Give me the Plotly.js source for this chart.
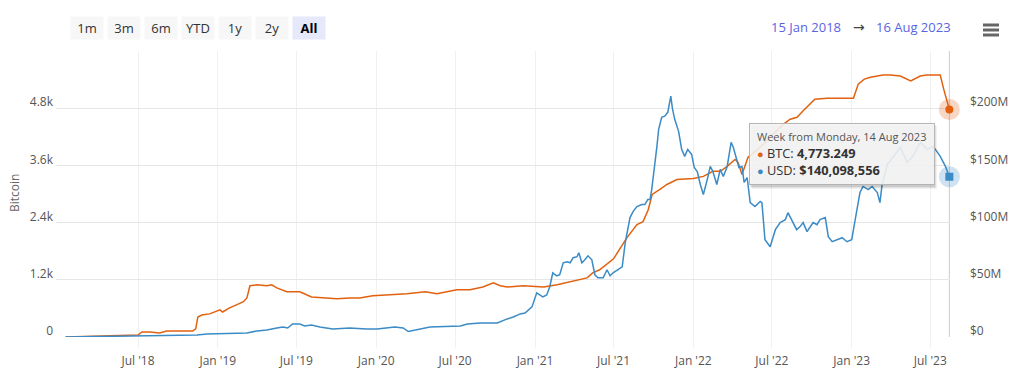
<!DOCTYPE html>
<html><head><meta charset="utf-8">
<script src="https://cdn.plot.ly/plotly-3.0.1.min.js"></script>
<style>html,body{margin:0;padding:0;background:#fff;} #chart{width:1015px;height:383px;}</style>
</head><body><div id="chart"></div>
<script>
// ---- data ----
const btcDates = ['2018-01-15','2018-04-11','2018-06-12','2018-07-01','2018-07-10','2018-07-28','2018-08-20','2018-09-05','2018-11-04','2018-11-11','2018-11-16','2018-11-25','2018-12-13','2019-01-06','2019-01-12','2019-01-28','2019-02-13','2019-03-01','2019-03-09','2019-03-16','2019-04-01','2019-04-24','2019-05-05','2019-05-17','2019-06-09','2019-07-09','2019-08-05','2019-09-09','2019-10-02','2019-11-01','2019-11-24','2019-12-24','2020-02-01','2020-03-12','2020-04-23','2020-05-20','2020-07-05','2020-08-04','2020-09-03','2020-09-27','2020-10-13','2020-10-29','2020-12-05','2021-01-21','2021-02-21','2021-03-30','2021-05-01','2021-05-14','2021-05-30','2021-07-01','2021-08-01','2021-08-24','2021-09-07','2021-09-19','2021-09-28','2021-10-16','2021-11-01','2021-11-24','2022-01-01','2022-01-24','2022-02-15','2022-03-04','2022-03-20','2022-04-07','2022-04-14','2022-04-23','2022-04-30','2022-05-07','2022-06-04','2022-07-01','2022-07-24','2022-08-12','2022-08-28','2022-09-10','2022-09-24','2022-10-08','2022-11-05','2023-01-05','2023-01-16','2023-01-30','2023-02-13','2023-03-14','2023-03-31','2023-04-23','2023-05-17','2023-06-08','2023-06-24','2023-07-24','2023-08-01','2023-08-07','2023-08-14'];
const btcValues = [0,20,30,40,105,105,85,125,125,170,420,460,485,570,525,610,675,740,820,1075,1095,1075,1095,1030,950,950,840,820,800,820,820,865,885,905,950,905,990,990,1050,1135,1075,1050,1075,1050,1095,1180,1240,1345,1410,1640,2085,2360,2420,2670,2990,3095,3200,3305,3325,3370,3475,3475,3580,3725,3665,3410,3580,3770,3980,4230,4440,4570,4610,4735,4860,4990,5010,5010,5305,5410,5450,5495,5495,5475,5370,5475,5495,5495,5200,4990,4773.249];

const usdDates = ['2018-01-15','2018-06-30','2018-11-14','2018-12-07','2019-03-09','2019-04-01','2019-04-24','2019-05-17','2019-05-31','2019-06-11','2019-06-22','2019-07-09','2019-07-20','2019-08-05','2019-08-24','2019-09-23','2019-11-01','2019-12-10','2020-01-03','2020-02-13','2020-03-03','2020-03-15','2020-04-11','2020-05-04','2020-07-13','2020-07-29','2020-08-28','2020-10-06','2020-10-29','2020-11-12','2020-11-28','2020-12-09','2020-12-25','2021-01-05','2021-01-12','2021-01-19','2021-01-28','2021-02-04','2021-02-11','2021-02-20','2021-02-27','2021-03-07','2021-03-16','2021-03-23','2021-03-30','2021-04-08','2021-04-12','2021-04-19','2021-04-26','2021-05-03','2021-05-12','2021-05-19','2021-05-26','2021-06-07','2021-06-16','2021-06-23','2021-06-30','2021-07-12','2021-07-21','2021-07-28','2021-08-08','2021-08-15','2021-08-24','2021-09-04','2021-09-11','2021-09-18','2021-09-23','2021-09-27','2021-10-04','2021-10-09','2021-10-13','2021-10-20','2021-10-27','2021-11-03','2021-11-10','2021-11-14','2021-11-19','2021-11-24','2021-11-28','2021-12-05','2021-12-12','2021-12-19','2021-12-28','2022-01-03','2022-01-10','2022-01-17','2022-01-24','2022-02-02','2022-02-09','2022-02-15','2022-02-24','2022-03-04','2022-03-11','2022-03-20','2022-03-29','2022-04-03','2022-04-12','2022-04-16','2022-04-23','2022-04-28','2022-05-05','2022-05-12','2022-05-23','2022-06-04','2022-06-08','2022-06-15','2022-06-27','2022-07-09','2022-07-20','2022-08-01','2022-08-07','2022-08-18','2022-08-27','2022-09-04','2022-09-11','2022-09-20','2022-10-04','2022-10-13','2022-10-20','2022-11-01','2022-11-08','2022-11-17','2022-11-28','2022-12-10','2022-12-21','2023-01-01','2023-01-09','2023-01-20','2023-01-27','2023-02-08','2023-02-17','2023-03-01','2023-03-07','2023-03-12','2023-03-24','2023-04-07','2023-04-23','2023-05-09','2023-05-22','2023-06-08','2023-06-24','2023-07-08','2023-07-24','2023-08-05','2023-08-14'];
const usdMillions = [0,0.9,1.8,2.6,3.5,5.3,6.1,7.9,8.8,7.9,11.4,11.4,9.6,10.5,8.8,7.0,7.9,7.0,7.0,8.8,7.9,4.8,7.0,8.8,9.6,11.4,12.3,12.3,15.8,17.5,20.2,21.0,26.3,38.6,36.8,35.1,36.8,43.9,56.1,53.5,54.4,64.9,65.8,64.9,69.3,70.2,73.7,64.9,67.5,71.0,67.5,54.4,51.7,51.7,58.8,53.5,56.1,58.8,61.4,82.4,104.4,109.6,114,115.8,115.8,120.1,120.1,128.9,148.2,166.6,181.5,192.1,193,196.4,210.5,199.1,190.3,183.3,179.8,164,157.9,164,159.6,148.2,144.7,133.3,124.5,137.7,149.1,144.7,133.3,146.5,140.3,149.1,170.1,165.8,152.6,148.2,149.1,135.1,139.4,117.5,114,118.4,117.5,85.1,78.9,93.8,100,102.6,108.7,100,93.8,96.5,100,92.1,100,98.2,102.6,104.4,87.7,83.3,85.1,86.8,83.3,85.1,102.6,126.3,131.6,128.9,131.6,126.3,117.5,133.3,150.8,157.9,165.8,152.6,157.9,170.1,164,166.6,157.9,149.1,140.098556];

const xTickVals = ['2018-07-01','2019-01-01','2019-07-01','2020-01-01','2020-07-01','2021-01-01','2021-07-01','2022-01-01','2022-07-01','2023-01-01','2023-07-01'];
const xTickText = ["Jul '18","Jan '19","Jul '19","Jan '20","Jul '20","Jan '21","Jul '21","Jan '22","Jul '22","Jan '23","Jul '23"];
const btcTickVals = [0,1200,2400,3600,4800,6000];
const btcTickText = ['0','1.2k','2.4k','3.6k','4.8k',''];
const usdTickVals = [0,50,100,150,200,250];
const usdTickText = ['$0','$50M','$100M','$150M','$200M',''];
const rangeButtons = ['1m','3m','6m','YTD','1y','2y','All'];
const rangeFrom = '15 Jan 2018';
const rangeTo = '16 Aug 2023';
const tooltipHeader = 'Week from Monday, 14 Aug 2023';
const tooltipBTC = '4,773.249';
const tooltipUSD = '$140,098,556';

// ---- styling ----
const ORANGE = '#e1610f';
const BLUE = '#3a8bc6';
const FONT = '"Open Sans", sans-serif';
const L = 56, R = 950, T = 51, B = 337;
const px2x = p => (p - L) / (R - L);
const py2y = p => (B - p) / (B - T);

const last = a => a[a.length - 1];

const traces = [
  {x: btcDates, y: btcValues, type: 'scatter', mode: 'lines', name: 'BTC',
   line: {color: ORANGE, width: 1.5}, yaxis: 'y'},
  {x: usdDates, y: usdMillions, type: 'scatter', mode: 'lines', name: 'USD',
   line: {color: BLUE, width: 1.5}, yaxis: 'y2'},
  {x: [last(btcDates)], y: [last(btcValues)], type: 'scatter', mode: 'markers', yaxis: 'y',
   marker: {size: 21, color: 'rgba(225,97,15,0.25)', symbol: 'circle'}, cliponaxis: false},
  {x: [last(usdDates)], y: [last(usdMillions)], type: 'scatter', mode: 'markers', yaxis: 'y2',
   marker: {size: 21, color: 'rgba(58,139,198,0.25)', symbol: 'circle'}, cliponaxis: false},
  {x: [last(btcDates)], y: [last(btcValues)], type: 'scatter', mode: 'markers', yaxis: 'y',
   marker: {size: 8, color: ORANGE, symbol: 'circle'}, cliponaxis: false},
  {x: [last(usdDates)], y: [last(usdMillions)], type: 'scatter', mode: 'markers', yaxis: 'y2',
   marker: {size: 8, color: BLUE, symbol: 'square'}, cliponaxis: false}
];

const annotations = [];
// y axis title
annotations.push({xref: 'paper', yref: 'paper', x: px2x(14), y: py2y(193), text: 'Bitcoin',
  textangle: -90, showarrow: false, font: {family: FONT, size: 12, color: '#666'}, xanchor: 'center', yanchor: 'middle'});
// range selector buttons
rangeButtons.forEach((b, i) => {
  const cx = 87 + i * 37;
  const sel = b === 'All';
  annotations.push({xref: 'paper', yref: 'paper', x: px2x(cx), y: py2y(28), xanchor: 'center', yanchor: 'middle',
    text: sel ? '<b>' + b + '</b>' : b, showarrow: false, width: 32, height: 22, borderpad: 0,
    bgcolor: sel ? '#e6e9fc' : '#f7f7f7', font: {family: FONT, size: 13, color: sel ? '#000' : '#333'}});
});
// date range
annotations.push({xref: 'paper', yref: 'paper', x: px2x(843), y: py2y(27), xanchor: 'right', yanchor: 'middle',
  text: rangeFrom, showarrow: false, font: {family: FONT, size: 13, color: '#5a63e3'}});
annotations.push({xref: 'paper', yref: 'paper', x: px2x(859), y: py2y(27), xanchor: 'center', yanchor: 'middle',
  text: '→', showarrow: false, font: {family: '"DejaVu Sans", sans-serif', size: 14, color: '#444'}});
annotations.push({xref: 'paper', yref: 'paper', x: px2x(874), y: py2y(27), xanchor: 'left', yanchor: 'middle',
  text: rangeTo, showarrow: false, font: {family: FONT, size: 13, color: '#5a63e3'}});
// tooltip
annotations.push({xref: 'paper', yref: 'paper', x: px2x(749), y: py2y(123), xanchor: 'left', yanchor: 'top',
  showarrow: false, align: 'left', valign: 'middle', width: 170, height: 46, borderpad: 7,
  bgcolor: 'rgba(247,247,247,0.88)', bordercolor: '#b5b5b5', borderwidth: 1,
  font: {family: FONT, size: 12.8, color: '#333'},
  text: '<span style="color:#555;font-size:11px">' + tooltipHeader + '</span><br>' +
        '<span style="color:' + ORANGE + ';font-size:11px">●</span> BTC: <b>' + tooltipBTC + '</b><br>' +
        '<span style="color:' + BLUE + ';font-size:11px">●</span> USD: <b>' + tooltipUSD + '</b>'});

const shapes = [];
// crosshair at last point
shapes.push({type: 'line', xref: 'x', yref: 'paper', x0: last(btcDates), x1: last(btcDates), y0: 0, y1: 1,
  line: {color: '#cccccc', width: 1}, layer: 'below'});
// tooltip shadow
[[3, 0.05], [2, 0.07], [1, 0.09]].forEach(([o, a]) => {
  shapes.push({type: 'rect', xref: 'paper', yref: 'paper', x0: px2x(749 + o), x1: px2x(934 + o),
    y0: py2y(123 + o), y1: py2y(186 + o), line: {width: 0}, fillcolor: 'rgba(0,0,0,' + a + ')', layer: 'above'});
});
// hamburger menu
[25, 30, 35].forEach(yy => {
  shapes.push({type: 'line', xref: 'paper', yref: 'paper', x0: px2x(983), x1: px2x(999), y0: py2y(yy), y1: py2y(yy),
    line: {color: '#666', width: 3}});
});

const layout = {
  width: 1015, height: 383,
  margin: {l: L, r: 1015 - R, t: T, b: 383 - B, pad: 0},
  paper_bgcolor: '#fff', plot_bgcolor: '#fff',
  showlegend: false, hovermode: false,
  font: {family: FONT, size: 12, color: '#555'},
  xaxis: {type: 'date', range: ['2017-12-24', '2023-08-15 12:00'], tickvals: xTickVals, ticktext: xTickText,
    showgrid: true, gridcolor: '#f0f0f0', gridwidth: 1, ticks: 'outside', ticklen: 10, tickcolor: '#f0f0f0',
    showline: false, zeroline: false, tickfont: {family: FONT, size: 12, color: '#555'},
    ticklabelstandoff: 3, fixedrange: true},
  yaxis: {range: [0, 6000], tickvals: btcTickVals, ticktext: btcTickText, showgrid: true, gridcolor: '#e6e6e6',
    zeroline: false, showline: false, ticks: '', tickfont: {family: FONT, size: 12, color: '#555'},
    ticklabelshift: -6, ticklabelstandoff: 2, fixedrange: true},
  yaxis2: {range: [0, 250], tickvals: usdTickVals, ticktext: usdTickText, overlaying: 'y', side: 'right',
    showgrid: false, zeroline: false, showline: false, ticks: '', tickfont: {family: FONT, size: 12, color: '#555'},
    ticklabelshift: -6, ticklabelstandoff: 19, fixedrange: true},
  annotations: annotations,
  shapes: shapes
};

Plotly.newPlot('chart', traces, layout, {displayModeBar: false, staticPlot: true});
</script>
</body></html>
